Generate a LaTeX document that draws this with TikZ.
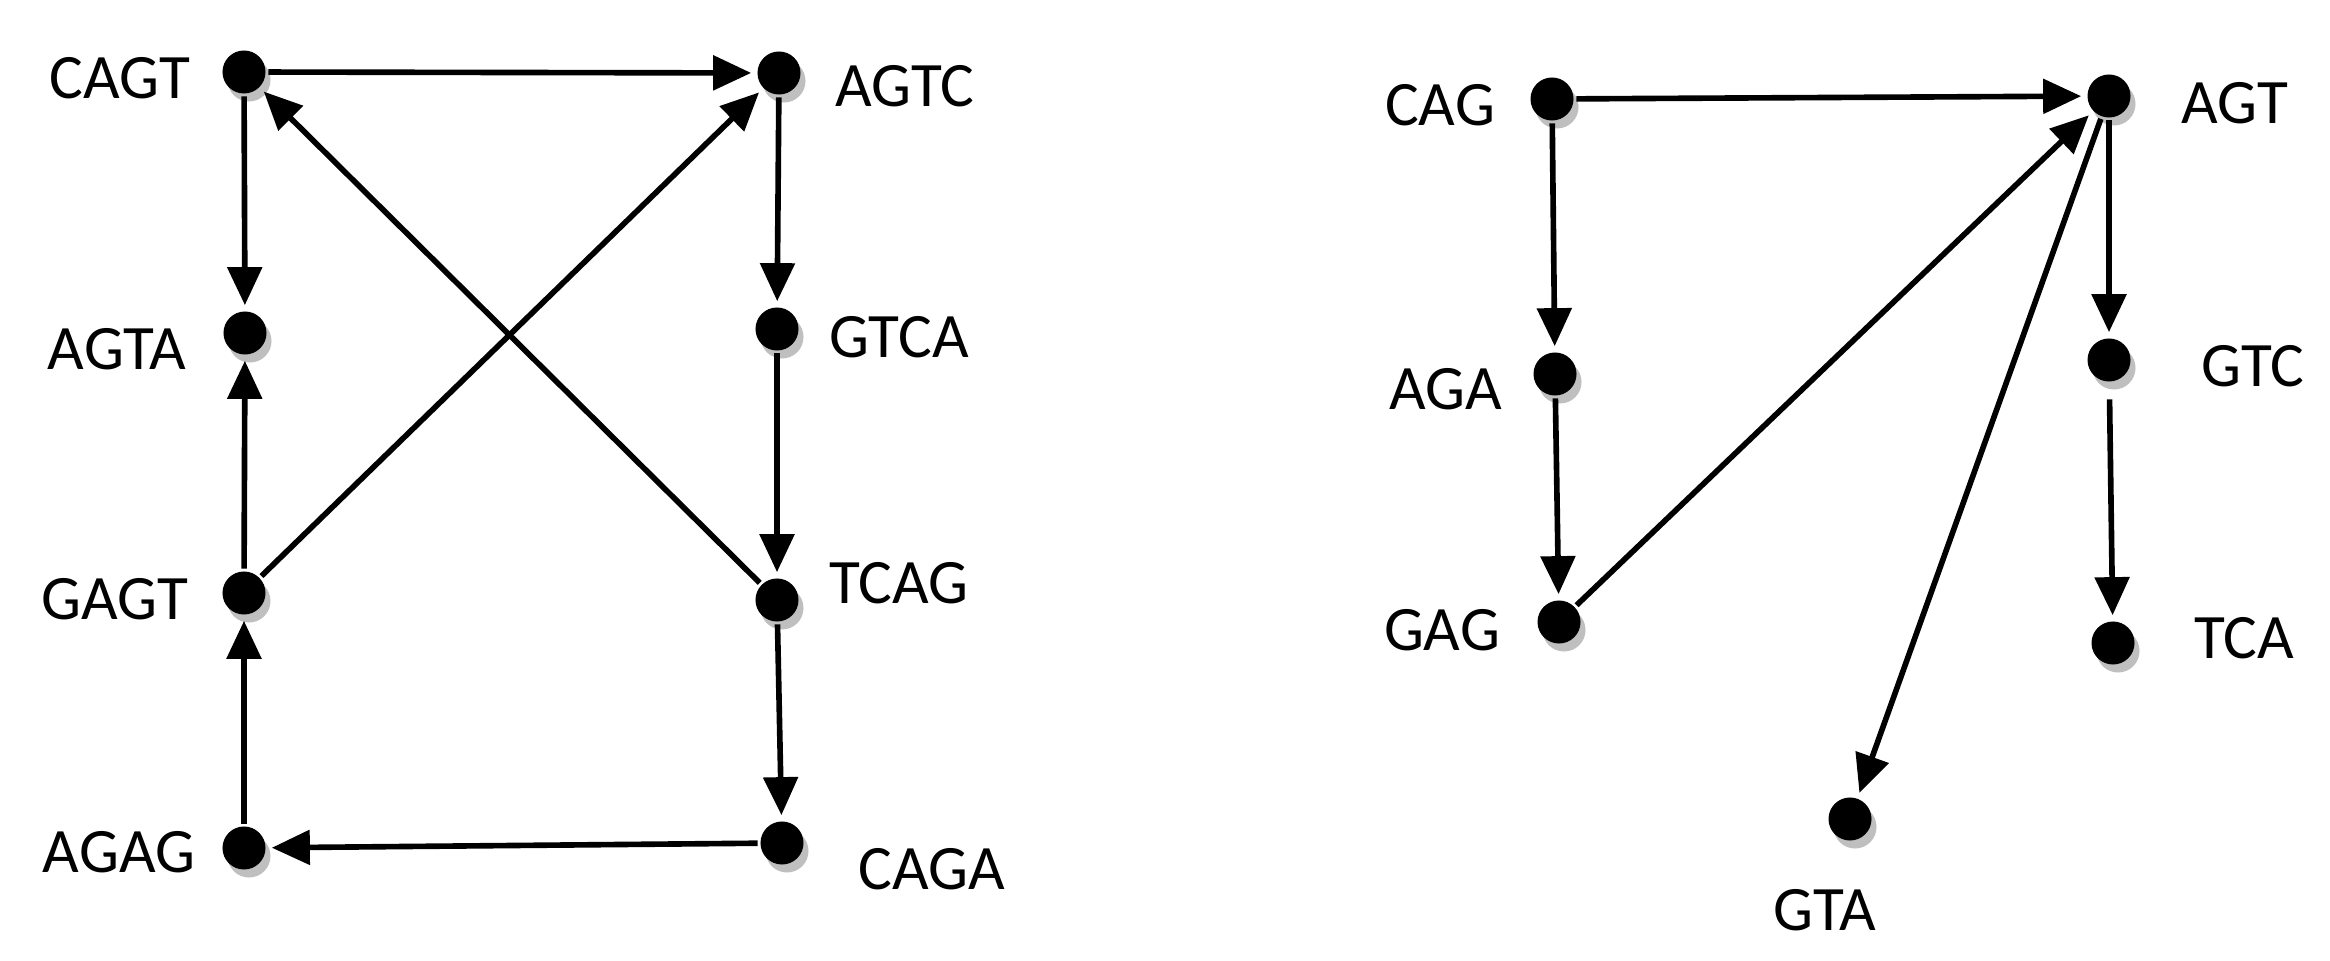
\documentclass[tikz,border=0pt]{standalone}
\usepackage{fontspec}
\setmainfont{Carlito}
\usetikzlibrary{arrows.meta, shadows}

\begin{document}
\begin{tikzpicture}[x=0.01cm,y=0.01cm,->,>={Triangle[length=0.38cm,width=0.34cm]},
                shorten >=1pt,line width=1.6pt,
                dna node/.style={circle,fill=black,inner sep=0pt,minimum size=0.43cm,
                  drop shadow={shadow xshift=0.05cm,shadow yshift=-0.08cm,fill=black!25,opacity=1}},
                tag/.style={font=\fontsize{18}{22}\selectfont}]

  \useasboundingbox (0,0) rectangle (2330,960);

  % left graph (4-mers)
  \node[dna node] (CAGT) at (244,888) {};
  \node[dna node] (AGTC) at (779,887) {};
  \node[dna node] (AGTA) at (245,627) {};
  \node[dna node] (GTCA) at (777,631) {};
  \node[dna node] (GAGT) at (244,367) {};
  \node[dna node] (TCAG) at (777,360) {};
  \node[dna node] (AGAG) at (244,112) {};
  \node[dna node] (CAGA) at (782,117) {};

  \node[tag] (tCAGT) at (120,882) {CAGT};
  \node[tag] (tAGTC) at (905,874) {AGTC};
  \node[tag] (tAGTA) at (117,611) {AGTA};
  \node[tag] (tGTCA) at (899,623) {GTCA};
  \node[tag] (tGAGT) at (115,361) {GAGT};
  \node[tag] (tTCAG) at (899,377) {TCAG};
  \node[tag] (tAGAG) at (119,108) {AGAG};
  \node[tag] (tCAGA) at (932,91) {CAGA};

  % right graph (3-mers)
  \node[dna node] (CAG) at (1552,861) {};
  \node[dna node] (AGT) at (2109,864) {};
  \node[dna node] (AGA) at (1555,586) {};
  \node[dna node] (GTC) at (2109,600) {};
  \node[dna node] (GAG) at (1559,338) {};
  \node[dna node] (TCA) at (2113,317) {};
  \node[dna node] (GTA) at (1850,141) {};

  \node[tag] (tCAG) at (1440,855) {CAG};
  \node[tag] (tAGT) at (2235,857) {AGT};
  \node[tag] (tAGA) at (1446,571) {AGA};
  \node[tag] (tGTC) at (2253,594) {GTC};
  \node[tag] (tGAG) at (1442,330) {GAG};
  \node[tag] (tTCA) at (2244,322) {TCA};
  \node[tag] (tGTA) at (1825,50) {GTA};

  \path
    (CAGT) edge (AGTC)
           edge (AGTA)
    (AGTC) edge (GTCA)
    (GTCA) edge (TCAG)
    (TCAG) edge (CAGA)
           edge (CAGT)
    (CAGA) edge (AGAG)
    (AGAG) edge (GAGT)
    (GAGT) edge (AGTA)
           edge (AGTC);

  \path
    (CAG) edge (AGT)
          edge (AGA)
    (AGA) edge (GAG)
    (GAG) edge (AGT)
    (AGT) edge (GTC)
          edge (GTA)
    (GTC) edge [shorten <=0.15cm] (TCA);
\end{tikzpicture}
\end{document}
